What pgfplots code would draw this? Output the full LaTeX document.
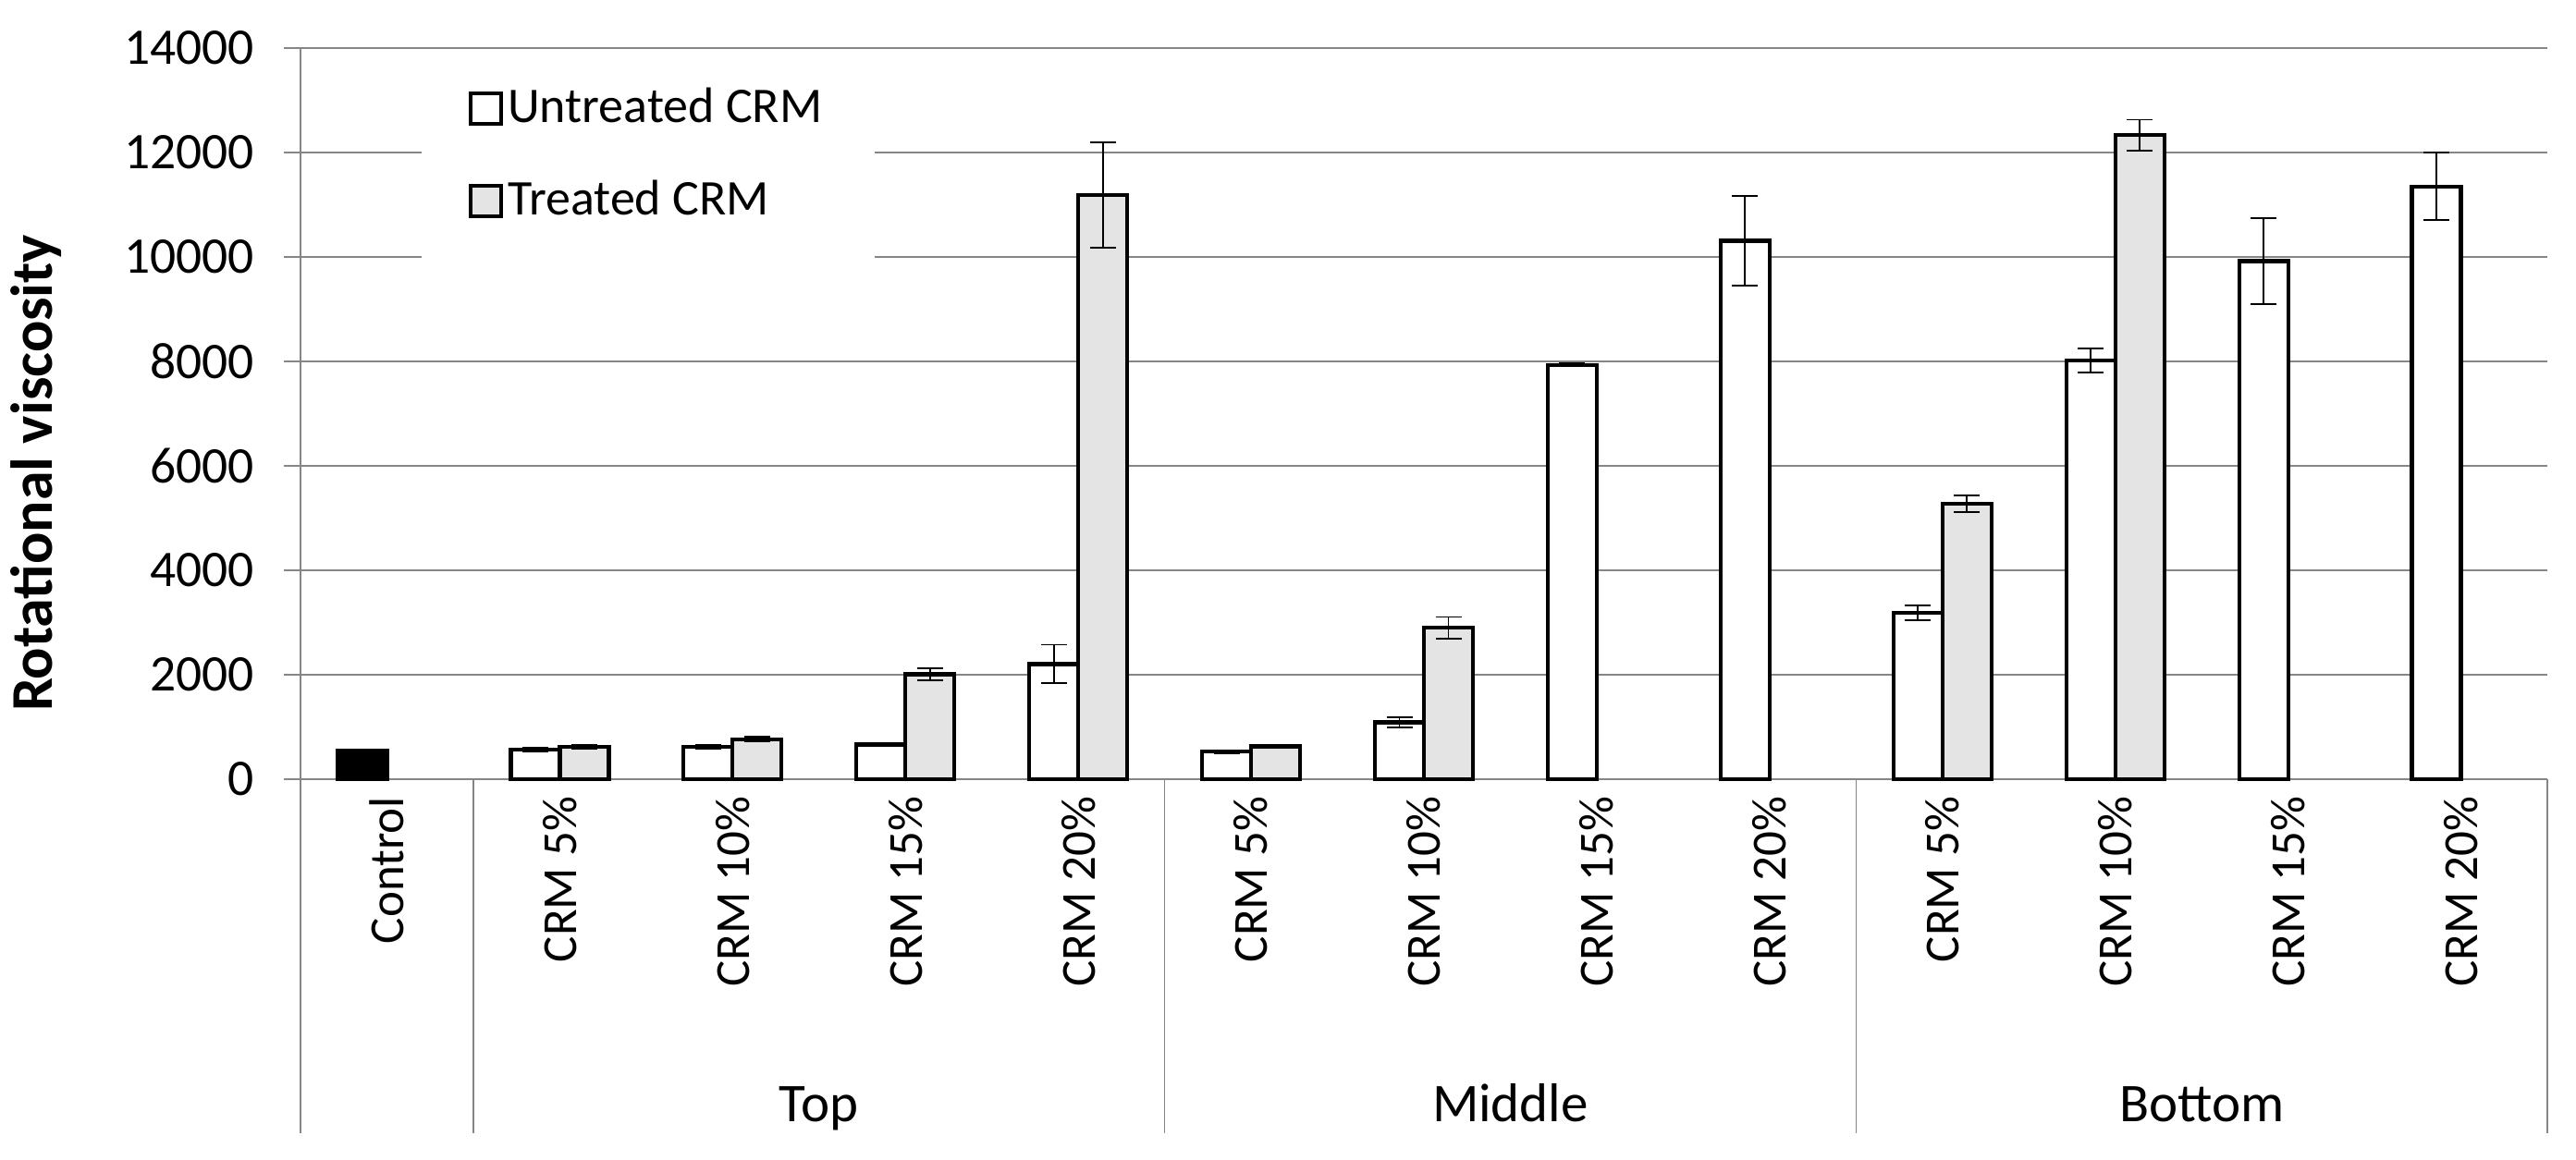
\documentclass[border=0pt]{standalone}
\usepackage{fontspec}
\setmainfont{Carlito}
\usepackage{pgfplots}
\pgfplotsset{compat=1.18}
\usepackage{pgfplotstable}

\definecolor{gridgray}{RGB}{134,134,134}
\definecolor{treatfill}{RGB}{228,228,228}

\pgfplotstableread{
x u ue
1 570 40
2 617 40
3 663 30
4 2205 370
5 528 30
6 1090 100
7 7934 30
8 10308 855
9 3186 140
10 8022 230
11 9918 820
12 11351 650
}\untreated

\pgfplotstableread{
x t te
1 622 40
2 765 45
3 2010 115
4 11188 1010
5 628 20
6 2898 210
9 5274 155
10 12330 300
}\treated

\pgfplotstableread{
x c
0 540
}\control

\begin{document}
\begin{tikzpicture}
\useasboundingbox (0,0) rectangle (557.2pt,251pt);
\begin{axis}[
  at={(65pt,82.4pt)}, anchor=south west,
  scale only axis, width=486pt, height=158.2pt,
  xmin=-0.5, xmax=12.5, ymin=0, ymax=14000,
  clip=false,
  axis x line*=bottom, axis y line*=left,
  axis line style={gridgray, line width=0.5pt},
  ytick={0,2000,...,14000},
  scaled y ticks=false,
  /pgf/number format/1000 sep={},
  /pgf/number format/assume math mode=true,
  yticklabel style={font=\fontsize{11.1}{13}\selectfont, inner sep=0pt, xshift=-6.2pt},
  ymajorgrids, grid style={gridgray, line width=0.3pt},
  tick align=outside, major tick length=3.6pt,
  ytick style={gridgray, line width=0.4pt},
  xtick={0,...,12}, xtick style={draw=none},
  xticklabels={Control, CRM 5\%, CRM 10\%, CRM 15\%, CRM 20\%, CRM 5\%, CRM 10\%, CRM 15\%, CRM 20\%, CRM 5\%, CRM 10\%, CRM 15\%, CRM 20\%},
  xticklabel style={rotate=90, anchor=east, inner sep=0pt, font=\fontsize{10.6}{12}\selectfont},
  legend style={at={(0.0539,1.0035)}, anchor=north west, draw=none, fill=none,
    inner xsep=10pt, inner ysep=8pt, row sep=8.9pt,
    font=\fontsize{10.8}{12}\selectfont, nodes={inner sep=1pt},
    /tikz/every even column/.append style={column sep=3.5pt}},
  legend cell align=left,
  legend image code/.code={\draw[#1, line width=0.85pt] (0pt,-3.3pt) rectangle (6.6pt,3.3pt);},
]
\fill[white] (rel axis cs:0.0539,0.6486) rectangle (rel axis cs:0.2556,0.977);
\addplot[ybar, bar width=10.6pt, bar shift=-5.3pt, fill=black, draw=black, line width=0.85pt, forget plot]
  table[x=x, y=c] {\control};
\addplot[ybar, bar width=10.6pt, bar shift=-5.3pt, fill=white, draw=black, line width=0.85pt,
  error bars/.cd, y dir=both, y explicit,
  error bar style={line width=0.35pt, black, xshift=-5.3pt},
  error mark options={rotate=90, mark size=2.8pt, line width=0.35pt, black}]
  table[x=x, y=u, y error=ue] {\untreated};
\addlegendentry{Untreated CRM}
\addplot[ybar, bar width=10.6pt, bar shift=5.3pt, fill=treatfill, draw=black, line width=0.85pt,
  error bars/.cd, y dir=both, y explicit,
  error bar style={line width=0.35pt, black, xshift=5.3pt},
  error mark options={rotate=90, mark size=2.8pt, line width=0.35pt, black}]
  table[x=x, y=t, y error=te] {\treated};
\addlegendentry{Treated CRM}

\draw[gridgray, line width=0.3pt] (axis cs:-0.5,0) -- ++(0pt,-76.6pt);
\draw[gridgray, line width=0.3pt] (axis cs:0.5,0) -- ++(0pt,-76.6pt);
\draw[gridgray, line width=0.3pt] (axis cs:4.5,0) -- ++(0pt,-76.6pt);
\draw[gridgray, line width=0.3pt] (axis cs:8.5,0) -- ++(0pt,-76.6pt);
\draw[gridgray, line width=0.3pt] (axis cs:12.5,0) -- ++(0pt,-76.6pt);

\node[anchor=base, font=\fontsize{11.8}{13}\selectfont] at (axis cs:2.5,0) [yshift=-74.2pt] {Top};
\node[anchor=base, font=\fontsize{11.8}{13}\selectfont] at (axis cs:6.5,0) [yshift=-74.2pt] {Middle};
\node[anchor=base, font=\fontsize{11.8}{13}\selectfont] at (axis cs:10.5,0) [yshift=-74.2pt] {Bottom};
\end{axis}
\node[rotate=90, font=\bfseries\fontsize{12.8}{14}\selectfont] at (7.8pt,148.6pt) {Rotational viscosity};
\end{tikzpicture}
\end{document}
